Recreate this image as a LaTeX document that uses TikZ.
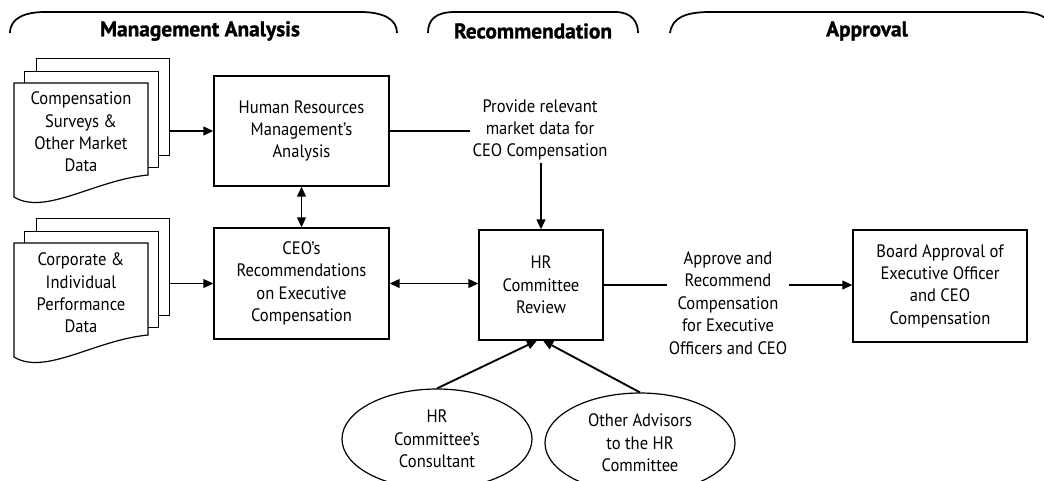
\documentclass[tikz,border=0pt]{standalone}
\usepackage{fontspec}
\setmainfont{PT Sans}[FakeStretch=0.92]
\newfontfamily\dgheadfam{PT Sans}[BoldFeatures={FakeBold=1.2}]
\usetikzlibrary{arrows.meta,shapes.geometric}
\newcommand\dgbody{\fontsize{13.5pt}{16.8pt}\selectfont}
\newcommand\dghead{\dgheadfam\fontsize{16pt}{18pt}\selectfont\bfseries}
\begin{document}
\begin{tikzpicture}[x=0.75pt,y=-0.75pt,
  box/.style={draw,line width=0.9pt,align=center,inner sep=0pt,font=\dgbody},
  sheet/.style={draw,line width=0.9pt,fill=white,inner sep=0pt,minimum width=100pt,minimum height=72.5pt},
  doc/.style={draw,line width=0.9pt,fill=white},
  txt/.style={align=center,inner sep=1.5pt,font=\dgbody},
  oval/.style={ellipse,draw,line width=0.9pt,align=center,inner sep=0pt,font=\dgbody,minimum width=142.5pt,minimum height=75pt},
  head/.style={font=\dghead,inner sep=0pt},
  bracket/.style={line width=1.3pt},
  arr/.style={line width=1.4pt,-{Triangle[length=7.5pt,width=6.5pt]}},
  darr/.style={line width=1.4pt,{Triangle[length=7.5pt,width=6.5pt]}-{Triangle[length=7.5pt,width=6.5pt]}},
  ln/.style={line width=1.4pt}]
\useasboundingbox (0,0) rectangle (1044,480);
\clip (0,0) rectangle (1044,480);

% header brackets
\draw[bracket] (10,33) .. controls (10,18) and (25,12) .. (45,12) -- (360,12) .. controls (385,12) and (397,20) .. (397,33);
\draw[bracket] (428,33) .. controls (428,20) and (435,12) .. (455,12) -- (615,12) .. controls (632,12) and (638,22) .. (638,33);
\draw[bracket] (670,33) .. controls (672,18) and (685,12) .. (710,12) -- (1020,12) .. controls (1033,12) and (1042,14) .. (1050,22);
\node[head] (hma) at (200,31) {Management Analysis};
\node[head] (hrec) at (533,31) {Recommendation};
\node[head] (happ) at (867,31) {Approval};

% document stack 1
\node[sheet] (back1) at (103,107) {};
\node[sheet] (mid1) at (91.5,119.5) {};
\draw[doc] (14,83) -- (148,83) -- (148,175) .. controls (95,180) and (45,216) .. (14,197) -- cycle;
\node[txt] (doc1) at (81,132) {Compensation\\Surveys \&\\Other Market\\Data};

% document stack 2
\node[sheet] (back2) at (103,267) {};
\node[sheet] (mid2) at (91.5,279.5) {};
\draw[doc] (14,243) -- (148,243) -- (148,335) .. controls (95,340) and (45,376) .. (14,357) -- cycle;
\node[txt] (doc2) at (81,293) {Corporate \&\\Individual\\Performance\\Data};

% boxes
\node[box,minimum width=131.25pt,minimum height=82.5pt] (hr) at (301.5,131) {Human Resources\\Management’s\\Analysis};
\node[box,minimum width=131.25pt,minimum height=83.25pt] (ceo) at (301.5,283.5) {CEO’s\\Recommendations\\on Executive\\Compensation};
\node[box,minimum width=93pt,minimum height=82.5pt] (hrc) at (541,285) {HR\\Committee\\Review};
\node[box,minimum width=130.5pt,minimum height=84pt] (board) at (940,286) {Board Approval of\\Executive Officer\\and CEO\\Compensation};

% labels
\node[txt] (prov) at (540,130) {Provide relevant\\market data for\\CEO Compensation};
\node[txt] (appr) at (728,303) {Approve and\\Recommend\\Compensation\\for Executive\\Officers and CEO};

% ellipses
\node[oval] (cons) at (437,439) {HR\\Committee’s\\Consultant};
\node[oval] (adv) at (640,443) {Other Advisors\\to the HR\\Committee};

% connectors
\draw[arr] (hr.west -| back1.east) -- (hr.west);
\draw[arr] (ceo.west -| back2.east) -- (ceo.west);
\draw[darr] (hr.south) -- (ceo.north);
\draw[darr] (ceo.east) -- (ceo.east -| hrc.west);
\draw[ln] (hr.east) -- (hr.east -| prov.west);
\draw[arr] (prov.south -| hrc.north) -- (hrc.north);
\draw[ln] (hrc.east) -- (hrc.east -| appr.west);
\draw[arr] (hrc.east -| appr.east) -- (hrc.east -| board.west);
\draw[arr] (cons.north) -- ([xshift=-3pt]hrc.south);
\draw[arr] (adv.north) -- ([xshift=1.5pt]hrc.south);
\end{tikzpicture}
\end{document}
